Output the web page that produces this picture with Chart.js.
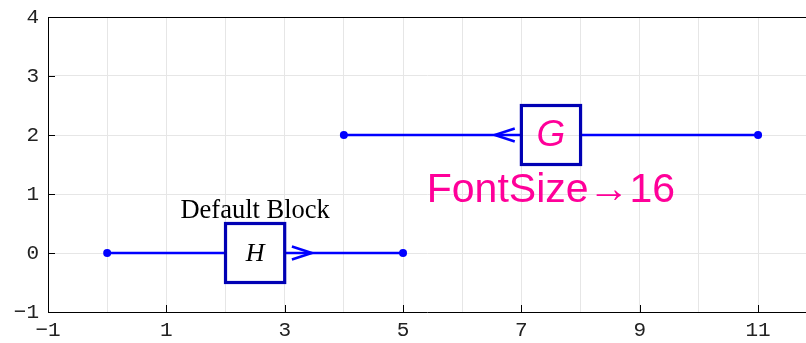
<!DOCTYPE html>
<html>
<head>
<meta charset="utf-8">
<script src="https://cdn.jsdelivr.net/npm/chart.js@4/dist/chart.umd.min.js"></script>
<style>
html,body{margin:0;padding:0;background:#fff;}
#c{display:block;}
</style>
</head>
<body>
<canvas id="c" width="806" height="343"></canvas>
<script>
// ---- data ----
const xTickLabels = [-1, 1, 3, 5, 7, 9, 11];
const yTickLabels = [-1, 0, 1, 2, 3, 4];
const gridXValues = [-1, 0, 1, 2, 3, 4, 5, 6, 7, 8, 9, 10, 11];
const gridYValues = [-1, 0, 1, 2, 3, 4];

const lineStartX = [0, 11];
const lineEndX = [5, 4];
const lineY = [0, 2];

const blockCenterX = [2.5, 7.5];
const blockCenterY = [0, 2];
const blockLabels = ['H', 'G'];
const arrowTipX = [3.46, 6.55];

const noteTexts = ['Default Block', 'FontSize\u219216'];
const noteX = [2.5, 7.5];
const noteY = [0.6, 0.86];

// ---- styles ----
const LINE_BLUE = '#0000ff';
const BOX_BLUE = '#0000b4';
const PINK = '#ff0099';
const BOX_HALF = 0.5;
const TICK_FONT = { family: '"Liberation Mono", "Courier New", monospace', size: 21 };

function fmt(v) {
  return v < 0 ? '\u2212' + Math.abs(v) : String(v);
}

const datasets = lineStartX.map((x0, i) => {
  const x1 = lineEndX[i];
  const y = lineY[i];
  const cx = blockCenterX[i];
  const lo = Math.min(x0, x1), hi = Math.max(x0, x1);
  return {
    data: [
      {x: lo, y: y},
      {x: cx - BOX_HALF, y: y},
      {x: cx, y: null},
      {x: cx + BOX_HALF, y: y},
      {x: hi, y: y}
    ],
    showLine: true,
    spanGaps: false,
    borderColor: LINE_BLUE,
    backgroundColor: LINE_BLUE,
    borderWidth: 2.5,
    pointRadius: [4, 0, 0, 0, 4],
    pointHoverRadius: 0,
    pointBorderWidth: 0,
    tension: 0
  };
});

const overlay = {
  id: 'overlay',
  afterDatasetsDraw(chart) {
    const ctx = chart.ctx;
    const xs = chart.scales.x, ys = chart.scales.y;
    const ca = chart.chartArea;
    ctx.save();
    // top frame line
    ctx.strokeStyle = '#000';
    ctx.lineWidth = 1;
    ctx.beginPath();
    ctx.moveTo(ca.left, ca.top + 0.5);
    ctx.lineTo(ca.right, ca.top + 0.5);
    ctx.stroke();
    // inward tick marks
    ctx.beginPath();
    xTickLabels.forEach(v => {
      const px = Math.round(xs.getPixelForValue(v)) + 0.5;
      ctx.moveTo(px, ca.bottom);
      ctx.lineTo(px, ca.bottom - 7);
    });
    yTickLabels.forEach(v => {
      const py = Math.round(ys.getPixelForValue(v)) + 0.5;
      ctx.moveTo(ca.left, py);
      ctx.lineTo(ca.left + 7, py);
    });
    ctx.stroke();

    // blocks
    blockCenterX.forEach((cx, i) => {
      const cy = blockCenterY[i];
      const l = xs.getPixelForValue(cx - BOX_HALF), r = xs.getPixelForValue(cx + BOX_HALF);
      const t = ys.getPixelForValue(cy + BOX_HALF), b = ys.getPixelForValue(cy - BOX_HALF);
      if (i === 0) {
        ctx.fillStyle = '#fff';
        ctx.fillRect(l, t, r - l, b - t);
      }
      ctx.strokeStyle = BOX_BLUE;
      ctx.lineWidth = 3.2;
      ctx.strokeRect(l, t, r - l, b - t);
      const mx = (l + r) / 2, my = (t + b) / 2;
      ctx.textAlign = 'center';
      ctx.textBaseline = 'middle';
      if (i === 0) {
        ctx.fillStyle = '#000';
        ctx.font = 'italic 26px "Liberation Serif", "DejaVu Serif", serif';
        ctx.fillText(blockLabels[i], mx, my + 1);
      } else {
        ctx.fillStyle = PINK;
        ctx.font = 'italic 37px "Liberation Sans", Arial, sans-serif';
        ctx.fillText(blockLabels[i], mx, my + 1);
      }
      // arrow head
      const tip = xs.getPixelForValue(arrowTipX[i]);
      const py = ys.getPixelForValue(cy);
      const dir = lineEndX[i] > lineStartX[i] ? 1 : -1;
      ctx.strokeStyle = LINE_BLUE;
      ctx.lineWidth = 2.5;
      ctx.beginPath();
      ctx.moveTo(tip - dir * 20, py - 6.5);
      ctx.lineTo(tip, py);
      ctx.lineTo(tip - dir * 20, py + 6.5);
      ctx.stroke();
    });

    // notes
    noteTexts.forEach((txt, i) => {
      const px = xs.getPixelForValue(noteX[i]);
      const py = ys.getPixelForValue(noteY[i]);
      ctx.textAlign = 'center';
      ctx.textBaseline = 'alphabetic';
      if (i === 0) {
        ctx.fillStyle = '#000';
        ctx.font = '26.5px "Liberation Serif", "DejaVu Serif", serif';
      } else {
        ctx.fillStyle = PINK;
        ctx.font = '41px "Liberation Sans", Arial, sans-serif';
      }
      ctx.fillText(txt, px, py);
    });
    ctx.restore();
  }
};

new Chart(document.getElementById('c'), {
  type: 'scatter',
  data: { datasets: datasets },
  plugins: [overlay],
  options: {
    responsive: false,
    animation: false,
    events: [],
    layout: { autoPadding: false, padding: { top: 17, left: 0, right: 0, bottom: 0 } },
    plugins: { legend: { display: false }, tooltip: { enabled: false } },
    scales: {
      x: {
        type: 'linear',
        min: -1,
        max: 11.81,
        afterBuildTicks(scale) { scale.ticks = gridXValues.map(v => ({value: v})); },
        afterFit(scale) { scale.height = 31; scale.paddingLeft = 0; scale.paddingRight = 0; },
        grid: { color: '#e6e6e6', lineWidth: 1, drawTicks: false },
        border: { display: true, color: '#000', width: 1 },
        ticks: {
          autoSkip: false,
          maxRotation: 0,
          padding: 6,
          color: '#222',
          font: TICK_FONT,
          callback: (v) => xTickLabels.includes(v) ? fmt(v) : ''
        }
      },
      y: {
        type: 'linear',
        min: -1,
        max: 4,
        afterBuildTicks(scale) { scale.ticks = gridYValues.map(v => ({value: v})); },
        afterFit(scale) { scale.width = 48; scale.paddingTop = 0; scale.paddingBottom = 0; },
        grid: { color: '#e6e6e6', lineWidth: 1, drawTicks: false },
        border: { display: true, color: '#000', width: 1 },
        ticks: {
          autoSkip: false,
          padding: 9,
          color: '#222',
          font: TICK_FONT,
          callback: (v) => yTickLabels.includes(v) ? fmt(v) : ''
        }
      }
    }
  }
});
</script>
</body>
</html>
